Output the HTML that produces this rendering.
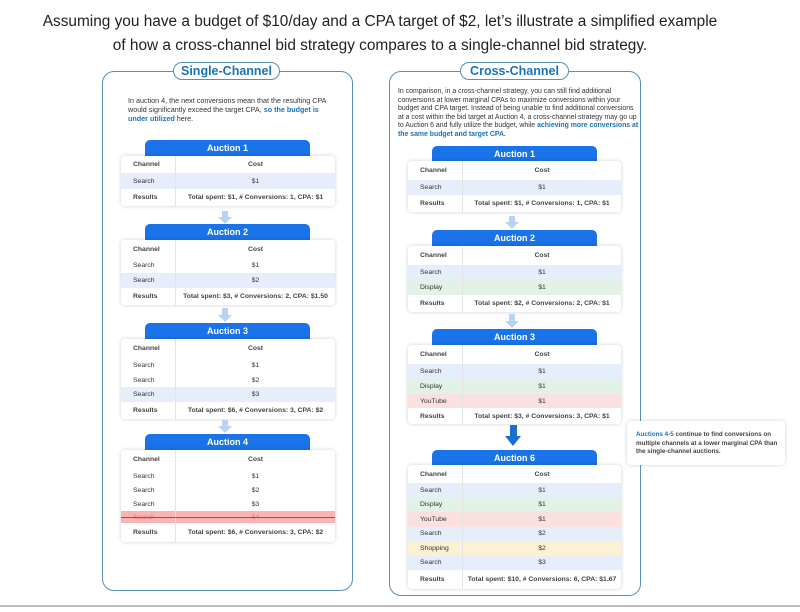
<!DOCTYPE html>
<html><head><meta charset="utf-8"><style>
*{margin:0;padding:0;box-sizing:border-box}
body{width:800px;height:612px;background:#fff;position:relative;font-family:"Liberation Sans",sans-serif;overflow:hidden;color:#333}
.abs{position:absolute}
.title{left:0;width:760px;text-align:center;font-size:15.4px;color:#202124;line-height:24px}
.panel{border:1.5px solid #5b8fb5;border-radius:12px}
.pill{border:1.5px solid #5b8fb5;border-radius:10px;background:#fff;color:#1a73b8;font-weight:bold;font-size:12.5px;text-align:center;line-height:16px}
.txt{font-size:7.2px;line-height:9px;color:#333}
.hl{color:#1a73b8;font-weight:bold}
.tab{background:#1a73e8;color:#fff;font-weight:bold;font-size:9px;text-align:center;border-radius:5px 5px 0 0}
.tbl{background:#fff;border-radius:4px;box-shadow:0 0 4px rgba(0,0,0,.18);font-size:6.8px;overflow:hidden}
.r{display:flex;align-items:center;position:relative}
.r .c1{width:55px;padding-left:12px;border-right:1px solid #e4e4e4;height:100%;display:flex;align-items:center}
.r .c2{flex:1;text-align:center}
.h{font-weight:bold;color:#444}
.b{background:#e6eefb}.g{background:#e3f2e6}.rd{background:#fbe0e0}.y{background:#fdf1d3}
.x{background:#f9b4b4;color:#e77}
.arr{width:0;height:0;border-left:7px solid transparent;border-right:7px solid transparent;border-top:7px solid #b9d3f3}
</style></head><body>
<div class="abs title" style="top:10px">Assuming you have a budget of $10/day and a CPA target of $2, let’s illustrate a simplified example</div>
<div class="abs title" style="top:34px">of how a cross-channel bid strategy compares to a single-channel bid strategy.</div>

<!-- Left panel -->
<div class="abs panel" style="left:102px;top:71px;width:251px;height:520px"></div>
<div class="abs pill" style="left:173px;top:62px;width:107px;height:18px">Single-Channel</div>
<div class="abs txt" style="left:128px;top:96px;width:212px">In auction 4, the next conversions mean that the resulting CPA would significantly exceed the target CPA, <span class="hl">so the budget is under utilized</span> here.</div>

<div class="abs tab" style="left:145px;top:140px;width:165px;height:16px;line-height:16px">Auction 1</div>
<div class="abs tbl" style="left:121px;top:156px;width:214px">
<div class="r h" style="height:17px"><div class="c1">Channel</div><div class="c2">Cost</div></div>
<div class="r b" style="height:16px"><div class="c1">Search</div><div class="c2">$1</div></div>
<div class="r h" style="height:17px"><div class="c1">Results</div><div class="c2">Total spent: $1, # Conversions: 1, CPA: $1</div></div>
</div>
<div class="abs" style="left:222px;top:211px;width:6px;height:7px;background:#b9d3f3"></div>
<div class="abs arr" style="left:218px;top:217px"></div>

<div class="abs tab" style="left:145px;top:224px;width:165px;height:16px;line-height:16px">Auction 2</div>
<div class="abs tbl" style="left:121px;top:240px;width:214px">
<div class="r h" style="height:18px"><div class="c1">Channel</div><div class="c2">Cost</div></div>
<div class="r" style="height:15px"><div class="c1">Search</div><div class="c2">$1</div></div>
<div class="r b" style="height:15px"><div class="c1">Search</div><div class="c2">$2</div></div>
<div class="r h" style="height:17px"><div class="c1">Results</div><div class="c2">Total spent: $3, # Conversions: 2, CPA: $1.50</div></div>
</div>
<div class="abs" style="left:222px;top:308px;width:6px;height:8px;background:#b9d3f3"></div>
<div class="abs arr" style="left:218px;top:315px"></div>

<div class="abs tab" style="left:145px;top:323px;width:165px;height:16px;line-height:16px">Auction 3</div>
<div class="abs tbl" style="left:121px;top:339px;width:214px">
<div class="r h" style="height:19px"><div class="c1">Channel</div><div class="c2">Cost</div></div>
<div class="r" style="height:15px"><div class="c1">Search</div><div class="c2">$1</div></div>
<div class="r" style="height:14px"><div class="c1">Search</div><div class="c2">$2</div></div>
<div class="r b" style="height:15px"><div class="c1">Search</div><div class="c2">$3</div></div>
<div class="r h" style="height:17px"><div class="c1">Results</div><div class="c2">Total spent: $6, # Conversions: 3, CPA: $2</div></div>
</div>
<div class="abs" style="left:222px;top:420px;width:6px;height:7px;background:#b9d3f3"></div>
<div class="abs arr" style="left:218px;top:426px"></div>

<div class="abs tab" style="left:145px;top:434px;width:165px;height:16px;line-height:16px">Auction 4</div>
<div class="abs tbl" style="left:121px;top:450px;width:214px">
<div class="r h" style="height:19px"><div class="c1">Channel</div><div class="c2">Cost</div></div>
<div class="r" style="height:14px"><div class="c1">Search</div><div class="c2">$1</div></div>
<div class="r" style="height:14px"><div class="c1">Search</div><div class="c2">$2</div></div>
<div class="r" style="height:14px"><div class="c1">Search</div><div class="c2">$3</div></div>
<div class="r x" style="height:12px"><div class="c1">Search</div><div class="c2">$4</div><div class="abs" style="left:0;right:0;top:6px;height:1px;background:#d33"></div></div>
<div class="r h" style="height:19px"><div class="c1">Results</div><div class="c2">Total spent: $6, # Conversions: 3, CPA: $2</div></div>
</div>

<!-- Right panel -->
<div class="abs panel" style="left:389px;top:71px;width:252px;height:525px"></div>
<div class="abs pill" style="left:460px;top:62px;width:109px;height:18px">Cross-Channel</div>
<div class="abs txt" style="left:398px;top:88px;width:241px;font-size:6.9px;line-height:8.6px">In comparison, in a cross-channel strategy, you can still find additional conversions at lower marginal CPAs to maximize conversions within your budget and CPA target. Instead of being unable to find additional conversions at a cost within the bid target at Auction 4, a cross-channel strategy may go up to Auction 6 and fully utilize the budget, while <span class="hl">achieving more conversions at the same budget and target CPA.</span></div>

<div class="abs tab" style="left:432px;top:146px;width:165px;height:16px;line-height:16px">Auction 1</div>
<div class="abs tbl" style="left:408px;top:161px;width:213px">
<div class="r h" style="height:19px"><div class="c1">Channel</div><div class="c2">Cost</div></div>
<div class="r b" style="height:15px"><div class="c1">Search</div><div class="c2">$1</div></div>
<div class="r h" style="height:17px"><div class="c1">Results</div><div class="c2">Total spent: $1, # Conversions: 1, CPA: $1</div></div>
</div>
<div class="abs" style="left:509px;top:216px;width:6px;height:7px;background:#b9d3f3"></div>
<div class="abs arr" style="left:505px;top:222px"></div>

<div class="abs tab" style="left:432px;top:230px;width:165px;height:16px;line-height:16px">Auction 2</div>
<div class="abs tbl" style="left:408px;top:246px;width:213px">
<div class="r h" style="height:19px"><div class="c1">Channel</div><div class="c2">Cost</div></div>
<div class="r b" style="height:15px"><div class="c1">Search</div><div class="c2">$1</div></div>
<div class="r g" style="height:15px"><div class="c1">Display</div><div class="c2">$1</div></div>
<div class="r h" style="height:17px"><div class="c1">Results</div><div class="c2">Total spent: $2, # Conversions: 2, CPA: $1</div></div>
</div>
<div class="abs" style="left:509px;top:314px;width:6px;height:8px;background:#b9d3f3"></div>
<div class="abs arr" style="left:505px;top:321px"></div>

<div class="abs tab" style="left:432px;top:329px;width:165px;height:16px;line-height:16px">Auction 3</div>
<div class="abs tbl" style="left:408px;top:345px;width:213px">
<div class="r h" style="height:19px"><div class="c1">Channel</div><div class="c2">Cost</div></div>
<div class="r b" style="height:15px"><div class="c1">Search</div><div class="c2">$1</div></div>
<div class="r g" style="height:15px"><div class="c1">Display</div><div class="c2">$1</div></div>
<div class="r rd" style="height:14px"><div class="c1">YouTube</div><div class="c2">$1</div></div>
<div class="r h" style="height:16px"><div class="c1">Results</div><div class="c2">Total spent: $3, # Conversions: 3, CPA: $1</div></div>
</div>
<div class="abs" style="left:510px;top:425px;width:7px;height:12px;background:#1a6fd0"></div>
<div class="abs" style="left:505px;top:436px;width:0;height:0;border-left:8.5px solid transparent;border-right:8.5px solid transparent;border-top:10px solid #1a6fd0"></div>

<div class="abs tab" style="left:432px;top:450px;width:165px;height:16px;line-height:16px">Auction 6</div>
<div class="abs tbl" style="left:408px;top:465px;width:213px">
<div class="r h" style="height:18px"><div class="c1">Channel</div><div class="c2">Cost</div></div>
<div class="r b" style="height:14.5px"><div class="c1">Search</div><div class="c2">$1</div></div>
<div class="r g" style="height:14.5px"><div class="c1">Display</div><div class="c2">$1</div></div>
<div class="r rd" style="height:14.5px"><div class="c1">YouTube</div><div class="c2">$1</div></div>
<div class="r b" style="height:14.5px"><div class="c1">Search</div><div class="c2">$2</div></div>
<div class="r y" style="height:14.5px"><div class="c1">Shopping</div><div class="c2">$2</div></div>
<div class="r b" style="height:14.5px"><div class="c1">Search</div><div class="c2">$3</div></div>
<div class="r h" style="height:19px"><div class="c1">Results</div><div class="c2">Total spent: $10, # Conversions: 6, CPA: $1.67</div></div>
</div>

<div class="abs" style="left:627px;top:421px;width:158px;height:44px;background:#fff;border-radius:4px;box-shadow:0 0 4px rgba(0,0,0,.18);font-size:6.3px;line-height:8.5px;padding:10px 0 0 9px;font-weight:bold;color:#444"><span style="color:#1a73b8">Auctions 4-5</span> continue to find conversions on multiple channels at a lower marginal CPA than the single-channel auctions.</div>

<div class="abs" style="left:0;top:605px;width:800px;height:2px;background:#bbb"></div>
</body></html>
